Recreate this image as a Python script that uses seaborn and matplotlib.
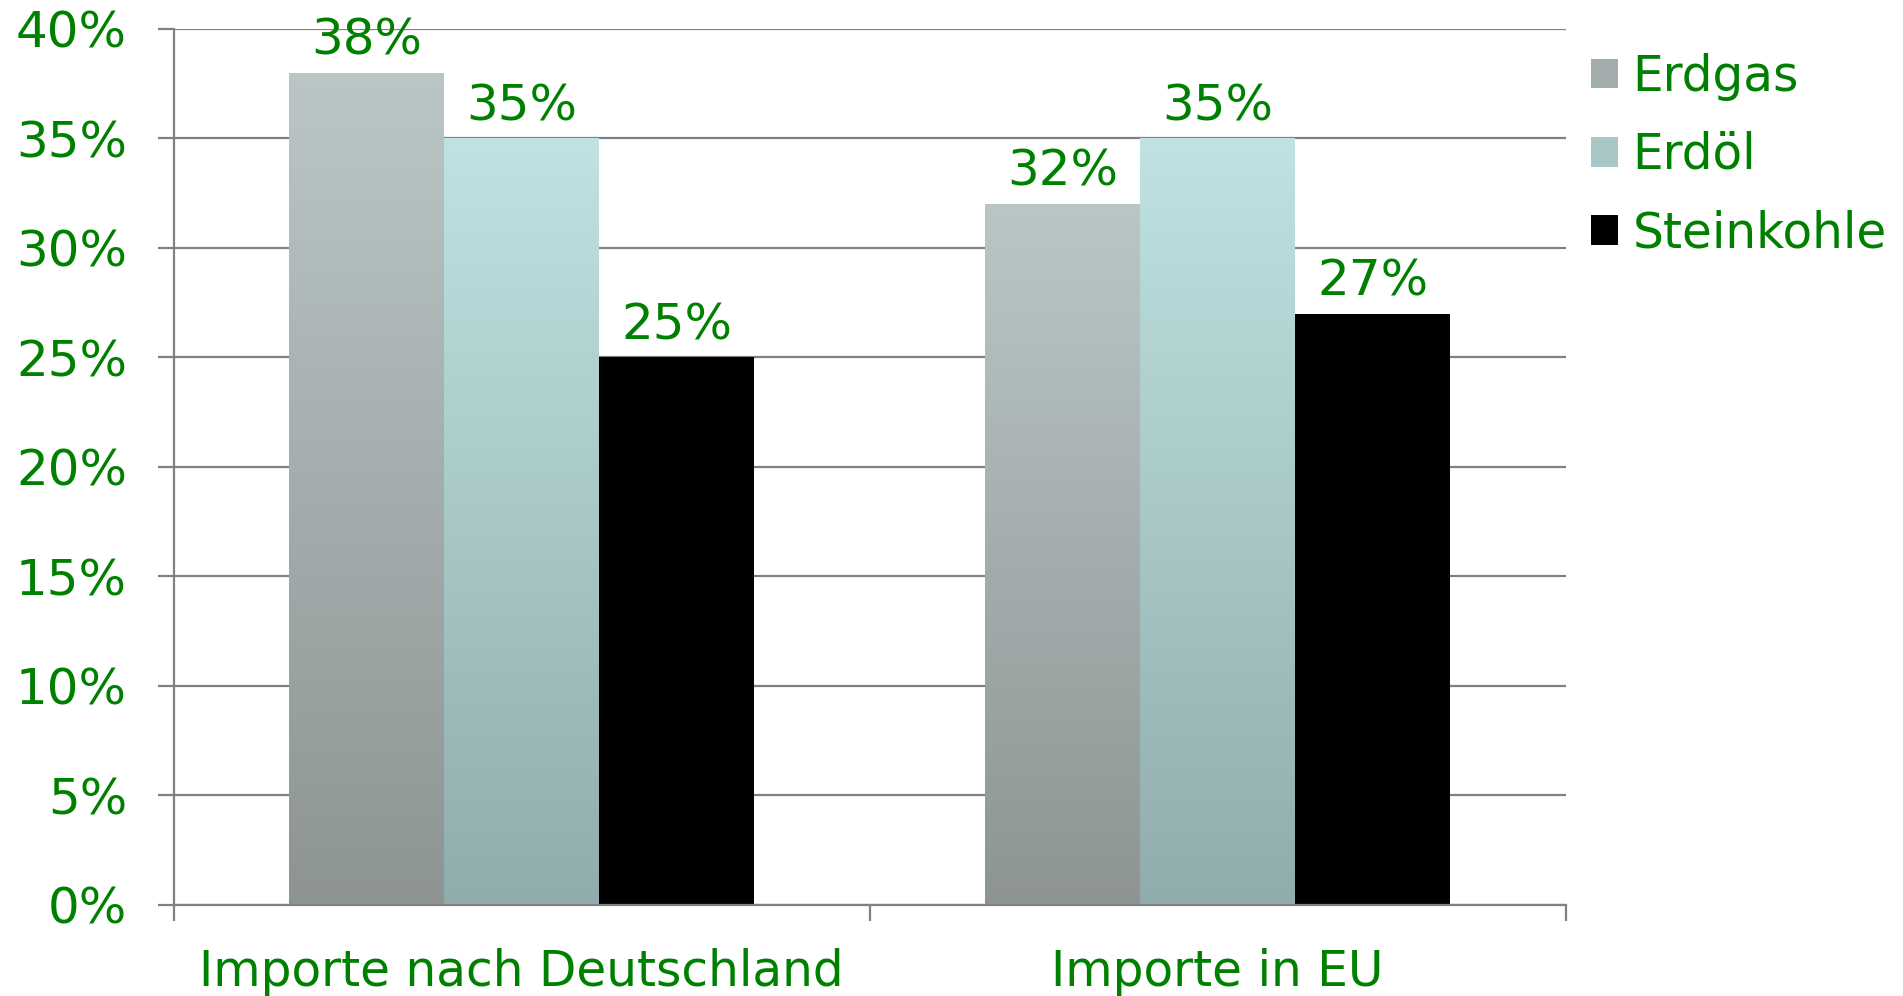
import numpy as np
import pandas as pd
import matplotlib
matplotlib.use("Agg")
import matplotlib.pyplot as plt
from matplotlib.colors import LinearSegmentedColormap
from matplotlib.patches import Patch
from matplotlib.ticker import FuncFormatter, FixedLocator
import seaborn as sns

# Data
categories = ["Importe nach Deutschland", "Importe in EU"]
sources = ["Erdgas", "Erdöl", "Steinkohle"]
erdgas = [38, 32]
erdoel = [35, 35]
steinkohle = [25, 27]

# gradient colours per source (bottom, top)
grad_colors = {
    "Erdgas": ("#8e9494", "#bac6c6"),
    "Erdöl": ("#91acac", "#c0e2e2"),
    "Steinkohle": ("#000000", "#000000"),
}
green = "#008000"
grey = "#808080"

df = pd.DataFrame({
    "Kategorie": categories * 3,
    "Quelle": ["Erdgas"] * 2 + ["Erdöl"] * 2 + ["Steinkohle"] * 2,
    "Anteil": erdgas + erdoel + steinkohle,
})

sns.set_style("white")
plt.rcParams["font.family"] = ["DejaVu Sans"]
fs = 36

fig = plt.figure(figsize=(19.03, 9.96), dpi=100)
ax = fig.add_axes([0.0912, 0.0914, 0.7315, 0.8795])

mid = {k: sns.blend_palette(list(v), 3)[1] for k, v in grad_colors.items()}
sns.barplot(data=df, x="Kategorie", y="Anteil", hue="Quelle", hue_order=sources,
            palette=mid, width=0.668, gap=0, saturation=1, legend=False, ax=ax,
            linewidth=0, edgecolor="none")

# per-bar vertical gradient
grad = np.linspace(0, 1, 256).reshape(-1, 1)
for cont, src in zip(ax.containers, sources):
    cmap = LinearSegmentedColormap.from_list(src, list(grad_colors[src]))
    for p in cont:
        x0, w, h = p.get_x(), p.get_width(), p.get_height()
        im = ax.imshow(grad, extent=[x0, x0 + w, 0, h], origin="lower", cmap=cmap,
                       aspect="auto", zorder=p.get_zorder() + 0.1, interpolation="bilinear")
        im.set_clip_path(p)
    ax.bar_label(cont, labels=[f"{v:.0f}%" for v in cont.datavalues],
                 padding=6, fontsize=fs, color=green)

ax.set_xlim(-0.5, 1.5)
ax.set_ylim(0, 40)
ax.set_yticks(range(0, 41, 5))
ax.yaxis.set_major_formatter(FuncFormatter(lambda v, _: f"{v:.0f}%"))
ax.grid(axis="y", color=grey, linewidth=1.6)
ax.set_axisbelow(True)

# category boundary ticks, labels at centres
ax.xaxis.set_major_locator(FixedLocator([-0.5, 0.5, 1.5]))
ax.xaxis.set_minor_locator(FixedLocator([0, 1]))
ax.set_xticklabels(["", "", ""], minor=False)
ax.set_xticklabels(categories, minor=True)
ax.tick_params(axis="x", which="major", direction="out", length=11.5, width=1.6,
               color=grey, bottom=True)
ax.tick_params(axis="x", which="minor", length=0, pad=31, labelsize=35, labelcolor=green,
               bottom=True)
ax.tick_params(axis="y", direction="out", length=11.5, width=1.6, color=grey,
               pad=22, labelsize=fs, labelcolor=green, left=True)
ax.set_xlabel("")
ax.set_ylabel("")

for s in ["top", "right"]:
    ax.spines[s].set_visible(False)
for s in ["left", "bottom"]:
    ax.spines[s].set_color(grey)
    ax.spines[s].set_linewidth(1.6)

handles = [Patch(facecolor=mid[s], edgecolor="none") for s in sources]
fig.legend(handles, sources, loc="upper left", bbox_to_anchor=(0.836, 0.947),
           frameon=False, fontsize=35, labelcolor=green, handlelength=0.56,
           handleheight=0.56, handletextpad=0.3, labelspacing=0.62,
           borderpad=0, borderaxespad=0)

fig.savefig("out.png", dpi=100)
